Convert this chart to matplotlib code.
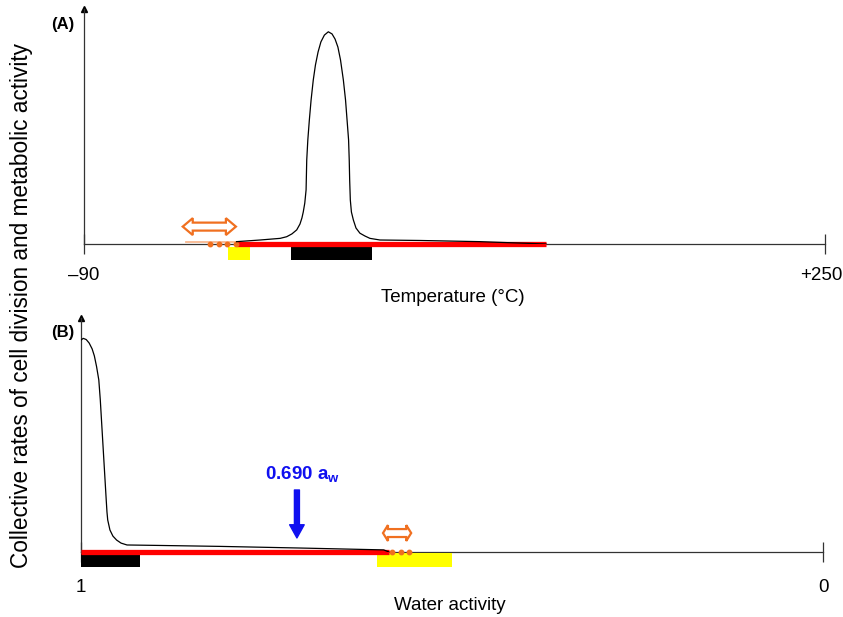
import matplotlib
matplotlib.use("Agg")
import matplotlib.pyplot as plt
from matplotlib.patches import Polygon
from matplotlib.transforms import ScaledTranslation

plt.rcParams['font.family'] = ['Liberation Sans', 'DejaVu Sans']
plt.rcParams['mathtext.fontset'] = 'custom'
plt.rcParams['mathtext.rm'] = 'Liberation Sans'
plt.rcParams['mathtext.bf'] = 'Liberation Sans:bold'

# (A) temperature, degrees C
temp_x = [-20, -9.2, 0, 3.0, 5.4, 7.6, 9.1, 10.0, 10.6, 11.3, 11.9, 12.2, 12.7,
          13.4, 14.2, 15.2, 16.2, 17.4, 18.7, 20.3, 22.1, 23.8, 25.2, 26.5,
          27.7, 29.0, 30.0, 30.7, 31.4, 31.7, 31.9, 32.2, 32.7, 33.6, 34.8,
          36.6, 38.9, 41.2, 45.8, 64.2, 91.7, 122]
temp_y = [0.01, 0.017, 0.024, 0.031, 0.043, 0.060, 0.085, 0.111, 0.136, 0.174,
          0.230, 0.357, 0.443, 0.528, 0.613, 0.698, 0.762, 0.817, 0.860, 0.889,
          0.903, 0.894, 0.872, 0.838, 0.783, 0.698, 0.613, 0.528, 0.443, 0.357,
          0.272, 0.187, 0.136, 0.102, 0.068, 0.046, 0.034, 0.024, 0.017, 0.015,
          0.010, 0.0]
temp_range = (-20, 122)          # red line
temp_optimum = (5, 42)           # black bar
temp_cold = (-24, -14)           # yellow bar
temp_ext = (-43, -20)            # thin orange line
temp_dots = [-32.2, -28.2, -24.4, -20.4]
temp_arrow = (-44.7, -20.3)
temp_ticks = [-90, 250]
temp_labels = ['\u201390', '+250']

# (B) water activity
aw_x = [1.0, 0.997, 0.993, 0.989, 0.985, 0.982, 0.979, 0.976, 0.974, 0.972,
        0.970, 0.968, 0.966, 0.965, 0.964, 0.961, 0.957, 0.952, 0.946, 0.938,
        0.894, 0.813, 0.705, 0.592, 0.585]
aw_y = [0.906, 0.913, 0.908, 0.893, 0.868, 0.838, 0.792, 0.735, 0.650, 0.543,
        0.436, 0.329, 0.222, 0.171, 0.137, 0.094, 0.068, 0.051, 0.038, 0.030,
        0.028, 0.024, 0.017, 0.009, 0.0]
aw_range = (1.0, 0.585)
aw_optimum = (1.0, 0.92)
aw_low = (0.601, 0.500)
aw_dots = [0.581, 0.569, 0.558]
aw_arrow = (0.593, 0.555)
aw_mark = 0.709
aw_mark_label = r'0.690 a$_\mathbf{w}$'
aw_ticks = [1, 0]
aw_labels = ['1', '0']

ORANGE = '#F07020'
AXCOL = '#333333'


def double_arrow(ax, x0, x1, y, head_len, head_h, body_h):
    s = 1 if x1 > x0 else -1
    hl = head_len * s
    pts = [(x0, y), (x0 + hl, y + head_h), (x0 + hl, y + body_h),
           (x1 - hl, y + body_h), (x1 - hl, y + head_h), (x1, y),
           (x1 - hl, y - head_h), (x1 - hl, y - body_h),
           (x0 + hl, y - body_h), (x0 + hl, y - head_h)]
    ax.add_patch(Polygon(pts, closed=True, fc='white', ec=ORANGE, lw=1.6,
                         joinstyle='miter', clip_on=False, zorder=5))


def style_axes(ax, ticks, labels, pad):
    for s in ['top', 'right']:
        ax.spines[s].set_visible(False)
    for s in ['left', 'bottom']:
        ax.spines[s].set_color(AXCOL)
        ax.spines[s].set_linewidth(0.9)
    ax.set_yticks([])
    ax.set_xticks(ticks)
    ax.set_xticklabels(labels, fontsize=13.5)
    ax.tick_params(axis='x', direction='inout', length=15, width=0.9,
                   color=AXCOL, pad=pad)
    ax.plot([0], [1], marker='^', ms=5, color='black', transform=ax.transAxes,
            clip_on=False)
    ax.set_ylim(0, 1)


def bar(ax, rng, color, y, h):
    ax.barh(y, rng[1] - rng[0], left=rng[0], height=h, color=color,
            clip_on=False, zorder=3)


fig = plt.figure(figsize=(8.43, 6.17), dpi=100)
W, H = 843, 617

# ---- panel A ----
axA = fig.add_axes([84 / W, (H - 244) / H, 741 / W, 235 / H])
axA.set_xlim(-90, 250)
style_axes(axA, temp_ticks, temp_labels, 9)
lab = axA.get_xticklabels()[1]
lab.set_transform(lab.get_transform() +
                  ScaledTranslation(-3 / 72, 0, fig.dpi_scale_trans))
axA.plot(temp_range, [0, 0], color='red', lw=3.8, solid_capstyle='butt',
         clip_on=False, zorder=4)
axA.plot(temp_x, temp_y, color='black', lw=0.9, zorder=6)
axA.plot(temp_ext, [0.01, 0.01], color='#F8B890', lw=1.3, zorder=4)
axA.plot(temp_dots, [0] * len(temp_dots), 'o', ms=3.2, color=ORANGE,
         clip_on=False, zorder=5)
bar(axA, temp_cold, '#FFFF00', -0.04, 0.053)
bar(axA, temp_optimum, 'black', -0.04, 0.053)
double_arrow(axA, temp_arrow[0], temp_arrow[1], 0.074, 4.6, 0.036, 0.017)
fig.text(63 / W, 1 - 25 / H, '(A)', fontsize=12, fontweight='bold',
         ha='center', va='center')
fig.text(453 / W, 1 - 297 / H, 'Temperature (\u00b0C)', fontsize=13.5,
         ha='center', va='center')

# ---- panel B ----
axB = fig.add_axes([81 / W, (H - 552) / H, 742 / W, 234 / H])
axB.set_xlim(1, 0)
style_axes(axB, aw_ticks, aw_labels, 12)
axB.plot(aw_range, [0, 0], color='red', lw=3.8, solid_capstyle='butt',
         clip_on=False, zorder=4)
axB.plot(aw_x, aw_y, color='black', lw=0.9, zorder=6)
axB.plot(aw_dots, [0] * len(aw_dots), 'o', ms=3.2, color=ORANGE,
         clip_on=False, zorder=5)
bar(axB, aw_optimum, 'black', -0.037, 0.057)
bar(axB, aw_low, '#FFFF00', -0.034, 0.06)
double_arrow(axB, aw_arrow[0], aw_arrow[1], 0.081, 0.0067, 0.034, 0.017)
axB.annotate('', xy=(aw_mark, 0.06), xytext=(aw_mark, 0.265),
             arrowprops=dict(color='#1010F0', width=3.6, headwidth=10.5,
                             headlength=9.5, shrink=0))
axB.text(0.701, 0.329, aw_mark_label, color='#1010F0', fontsize=13.5,
         fontweight='bold', ha='center', va='center')
fig.text(63 / W, 1 - 333 / H, '(B)', fontsize=12, fontweight='bold',
         ha='center', va='center')
fig.text(450 / W, 1 - 605 / H, 'Water activity', fontsize=13.5,
         ha='center', va='center')

fig.text(22 / W, 1 - 306 / H,
         'Collective rates of cell division and metabolic activity',
         fontsize=16.3, rotation=90, ha='center', va='center')

fig.savefig('out.png', dpi=100)
